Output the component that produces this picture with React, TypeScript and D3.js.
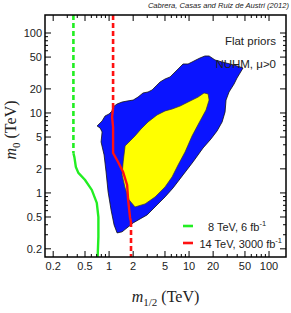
import React from "react";
import * as d3 from "d3";

// ---- data (m1/2 in TeV, m0 in TeV) ----
const blueRegion: [number, number][] = [
  [1.122, 11.9], [1.26, 12.96], [1.454, 13.7], [1.68, 14.1], [2.0, 14.5], [2.3, 15.8],
  [2.66, 17.8], [3.07, 18.3], [3.45, 19.4], [3.87, 21.8], [4.34, 24.4], [5.01, 26.6],
  [5.79, 28.2], [6.49, 31.6], [7.29, 35.5], [8.41, 41.0], [9.72, 41.0], [10.9, 43.4],
  [12.2, 46.0], [13.7, 48.7], [15.8, 51.6], [17.8, 51.6], [21.1, 46.0], [25.9, 43.4],
  [32.5, 41.0], [39.8, 38.7], [47.3, 36.5], [43.4, 31.6], [39.8, 27.4], [36.5, 23.0],
  [31.6, 18.3], [29.0, 14.5], [28.2, 10.3], [25.9, 7.72], [22.4, 5.96], [18.8, 4.73],
  [14.96, 3.65], [11.2, 2.44], [8.41, 1.68], [6.31, 1.155], [5.01, 0.891], [3.98, 0.708],
  [2.99, 0.531], [2.44, 0.473], [2.0, 0.422], [1.454, 0.326], [1.26, 0.316], [1.155, 0.398],
  [1.059, 0.613], [0.972, 1.03], [0.917, 1.83], [0.866, 2.99], [0.794, 4.34], [0.818, 5.79],
  [0.772, 6.49], [0.708, 6.88], [0.818, 7.94], [0.891, 9.17], [1.0, 9.72], [1.09, 10.6],
];

const yellowRegion: [number, number][] = [
  [17.3, 17.3], [17.8, 14.5], [16.3, 10.9], [13.3, 7.5], [10.9, 5.16], [8.91, 3.25],
  [7.29, 2.24], [6.13, 1.585], [5.01, 1.19], [3.76, 0.891], [2.82, 0.729], [2.11, 0.668],
  [1.78, 0.818], [1.585, 1.155], [1.454, 1.68], [1.5, 2.44], [1.585, 3.87], [1.73, 4.22],
  [2.11, 5.16], [2.51, 6.31], [3.07, 7.72], [3.98, 9.44], [5.01, 10.6], [6.13, 11.2],
  [7.72, 12.2], [9.72, 13.7], [12.96, 15.8], [15.4, 17.8],
];

const lhc8Solid: [number, number][] = [
  [0.358, 3.13], [0.368, 2.82], [0.384, 2.11], [0.413, 1.78], [0.501, 1.45], [0.608, 1.09],
  [0.702, 0.75], [0.735, 0.5], [0.735, 0.282], [0.718, 0.15],
];
const lhc8DashX = 0.358;
const lhc8DashFromM0 = 3.13;

const lhc14Solid: [number, number][] = [
  [1.122, 11.5], [1.09, 8.91], [1.122, 6.68], [1.122, 4.87], [1.122, 3.16], [1.296, 2.44],
  [1.496, 1.83], [1.68, 1.26], [1.73, 0.818], [1.83, 0.487], [1.88, 0.434],
];
const lhc14DashTopX = 1.122;
const lhc14DashTopFrom = 11.5;
const lhc14DashBottomX = 1.88;
const lhc14DashBottomFrom = 0.434;

const tickLabels = [0.2, 0.5, 1, 2, 5, 10, 20, 50, 100];
const legendLabels = ["8 TeV, 6 fb", "14 TeV, 3000 fb"];

const W = 291, H = 313;
const L = 45, R = 286, T = 15, B = 257;

export default function App() {
  const x = d3.scaleLog().domain([0.158, 163]).range([L, R]);
  const y = d3.scaleLog().domain([0.158, 168]).range([B, T]);
  const [xMin, xMax] = x.domain();
  const [yMin, yMax] = y.domain();

  const area = d3.line<[number, number]>().x(d => x(d[0])).y(d => y(d[1])).curve(d3.curveLinearClosed);
  const line = d3.line<[number, number]>().x(d => x(d[0])).y(d => y(d[1]));

  const minor = (lo: number, hi: number) => {
    const out: number[] = [];
    for (let e = -1; e <= 2; e++) for (let k = 1; k <= 9; k++) {
      const v = k * Math.pow(10, e);
      if (v >= lo && v <= hi) out.push(v);
    }
    return out;
  };
  const isMajor = (v: number) => tickLabels.some(t => Math.abs(t - v) / t < 1e-6);
  const xt = minor(xMin, xMax);
  const yt = minor(yMin, yMax);
  const sans = "'Liberation Sans', Arial, Helvetica, sans-serif";
  const serif = "'Liberation Serif', 'Times New Roman', serif";
  const fmt = (v: number) => String(v);

  return (
    <svg width={W} height={H} style={{ position: "absolute", left: 0, top: 0 }}>
      <defs>
        <clipPath id="plotclip"><rect x={L} y={T} width={R - L} height={B - T} /></clipPath>
      </defs>
      <rect x={0} y={0} width={W} height={H} fill="#fff" />
      <text x={289} y={7.5} fontFamily={sans} fontSize={7.6} fontStyle="italic" textAnchor="end" fill="#222">
        Cabrera, Casas and Ruiz de Austri (2012)
      </text>
      <g clipPath="url(#plotclip)">
        <path d={area(blueRegion) || ""} fill="#0a14ff" stroke="#111" strokeWidth={0.8} />
        <path d={area(yellowRegion) || ""} fill="#ffff00" stroke="#333" strokeWidth={0.7} />
        <line x1={x(lhc8DashX)} x2={x(lhc8DashX)} y1={y(yMax)} y2={y(lhc8DashFromM0)} stroke="#22ee22" strokeWidth={2.6} strokeDasharray="5,3" />
        <path d={line(lhc8Solid) || ""} fill="none" stroke="#22ee22" strokeWidth={2.4} />
        <line x1={x(lhc14DashTopX)} x2={x(lhc14DashTopX)} y1={y(yMax)} y2={y(lhc14DashTopFrom)} stroke="#ff1111" strokeWidth={2.6} strokeDasharray="5,3" />
        <path d={line(lhc14Solid) || ""} fill="none" stroke="#ff1111" strokeWidth={2.4} />
        <line x1={x(lhc14DashBottomX)} x2={x(lhc14DashBottomX)} y1={y(lhc14DashBottomFrom)} y2={y(yMin)} stroke="#ff1111" strokeWidth={2.6} strokeDasharray="5,3" />
      </g>
      {/* ticks */}
      <g stroke="#000" strokeWidth={1}>
        {xt.map(v => {
          const len = isMajor(v) ? 6 : 3;
          return (
            <g key={"x" + v}>
              <line x1={x(v)} x2={x(v)} y1={B} y2={B - len} />
              <line x1={x(v)} x2={x(v)} y1={T} y2={T + len} />
            </g>
          );
        })}
        {yt.map(v => {
          const len = isMajor(v) ? 6 : 3;
          return (
            <g key={"y" + v}>
              <line x1={L} x2={L + len} y1={y(v)} y2={y(v)} />
              <line x1={R} x2={R - len} y1={y(v)} y2={y(v)} />
            </g>
          );
        })}
      </g>
      <rect x={L} y={T} width={R - L} height={B - T} fill="none" stroke="#000" strokeWidth={1.5} />
      {tickLabels.map(v => (
        <text key={"xl" + v} x={x(v)} y={270} fontFamily={sans} fontSize={11} textAnchor="middle" fill="#222">{fmt(v)}</text>
      ))}
      {tickLabels.map(v => (
        <text key={"yl" + v} x={42} y={y(v) + 4} fontFamily={sans} fontSize={11} textAnchor="end" fill="#222">{fmt(v)}</text>
      ))}
      <text x={276} y={45} fontFamily={sans} fontSize={11.5} textAnchor="end" fill="#222">Flat priors</text>
      <text x={276} y={67.5} fontFamily={sans} fontSize={11.5} textAnchor="end" fill="#222">NUHM, μ&gt;0</text>
      {/* legend */}
      <line x1={183} x2={193} y1={226} y2={226} stroke="#22ee22" strokeWidth={2.6} />
      <line x1={183} x2={193} y1={243} y2={243} stroke="#ff1111" strokeWidth={2.6} />
      <text x={208} y={230.5} fontFamily={sans} fontSize={11} fill="#222">
        {legendLabels[0]}<tspan fontSize={7.5} dy={-5}>-1</tspan>
      </text>
      <text x={199.5} y={247.5} fontFamily={sans} fontSize={11} fill="#222">
        {legendLabels[1]}<tspan fontSize={7.5} dy={-5}>-1</tspan>
      </text>
      {/* axis titles */}
      <text x={(L + R) / 2} y={302} fontFamily={serif} fontSize={16} textAnchor="middle" fill="#222">
        <tspan fontStyle="italic">m</tspan><tspan fontSize={11} dy={4}>1/2</tspan><tspan dy={-4}> (TeV)</tspan>
      </text>
      <text transform={`translate(16,${(T + B) / 2 - 6}) rotate(-90)`} fontFamily={serif} fontSize={16} textAnchor="middle" fill="#222">
        <tspan fontStyle="italic">m</tspan><tspan fontSize={11} dy={4}>0</tspan><tspan dy={-4}> (TeV)</tspan>
      </text>
    </svg>
  );
}
